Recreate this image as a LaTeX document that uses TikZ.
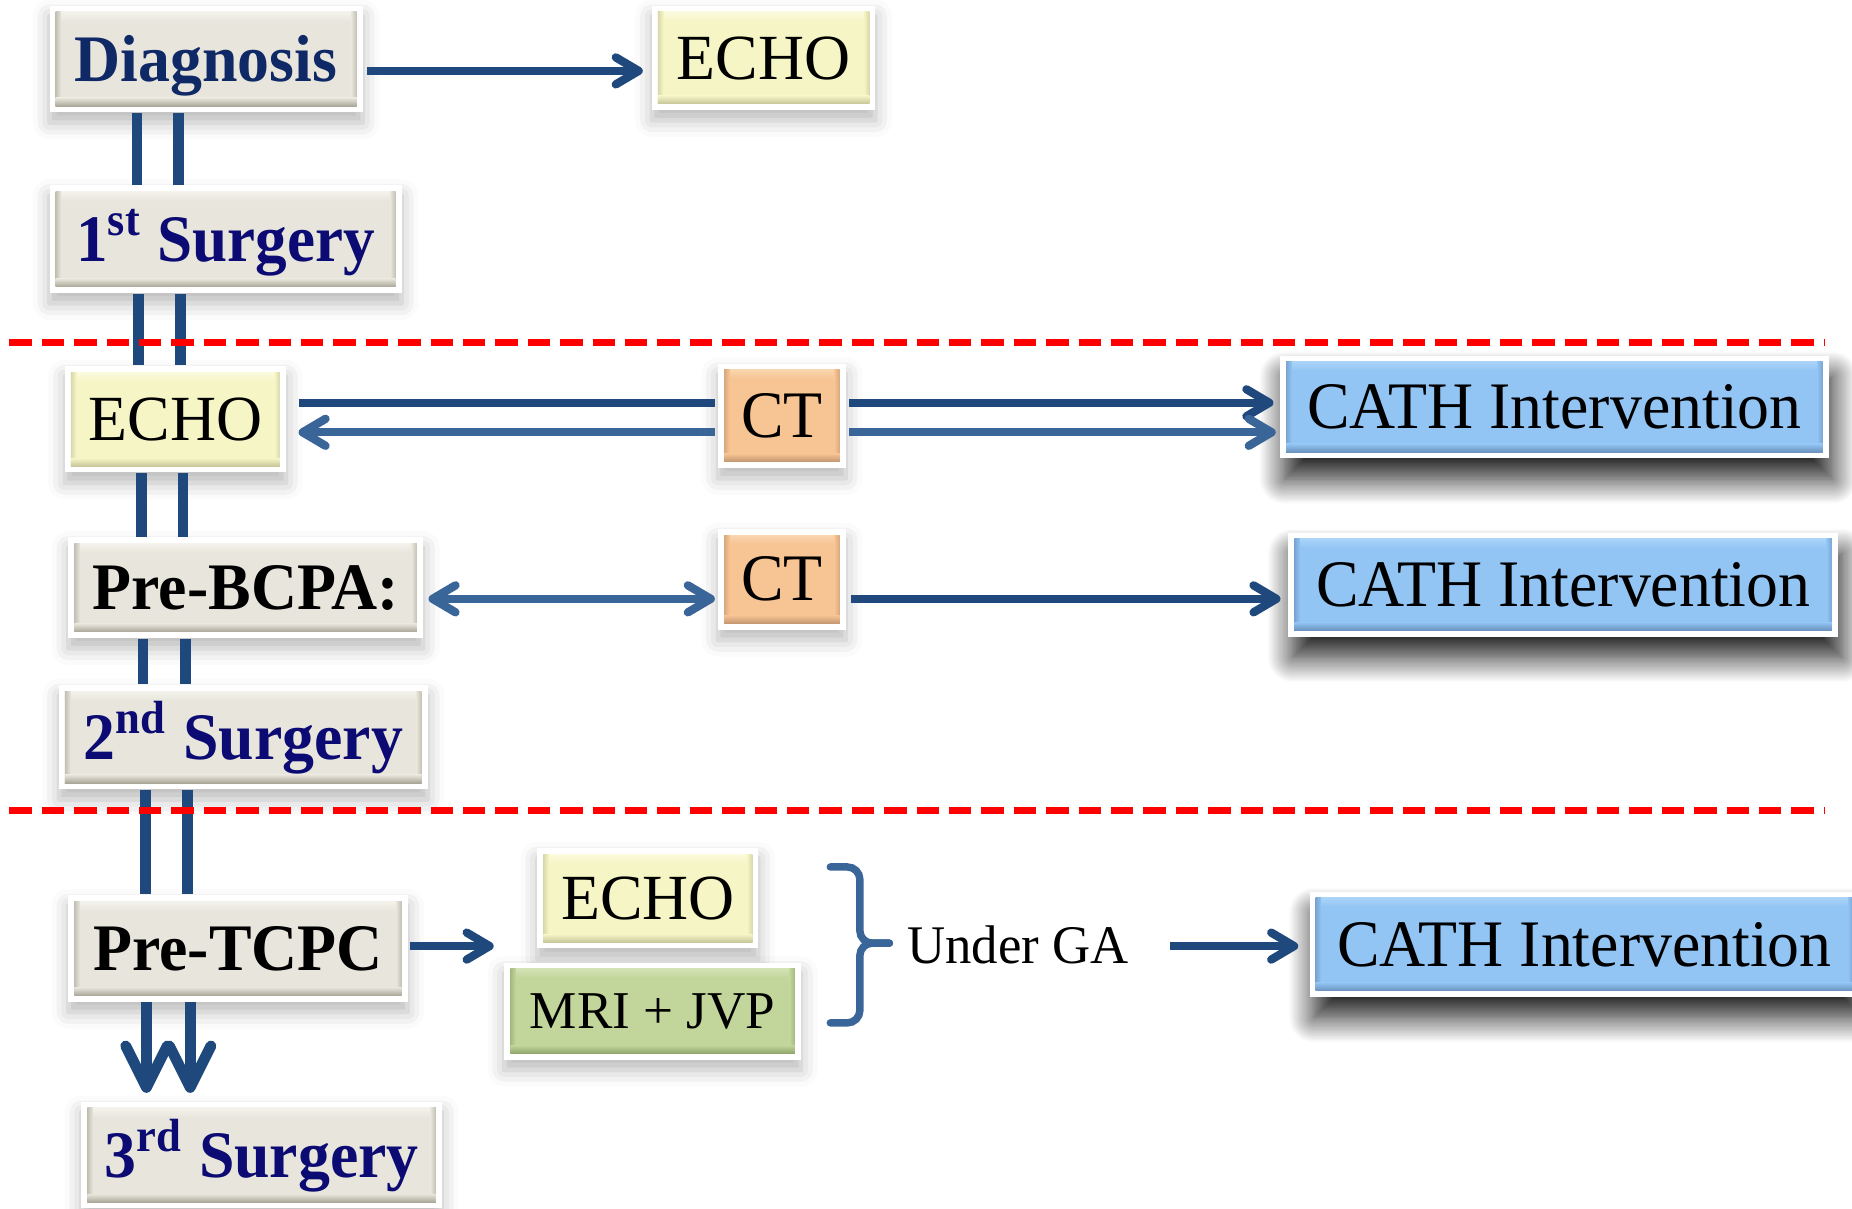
\documentclass[tikz,border=0pt]{standalone}
\usepackage{fontspec}
\setmainfont{Liberation Serif}
\usepackage{graphicx}
\usetikzlibrary{arrows.meta,calc,shadows.blur}

\definecolor{dblue}{HTML}{1F497D}
\definecolor{lblue}{HTML}{3A6598}
\definecolor{navyA}{HTML}{0F2866}
\definecolor{navyB}{HTML}{0B0B73}
\definecolor{gBase}{HTML}{E8E6DC}\definecolor{gLight}{HTML}{F3F2EC}\definecolor{gDark}{HTML}{A9A698}
\definecolor{yBase}{HTML}{F5F5C6}\definecolor{yLight}{HTML}{FBFBDE}\definecolor{yDark}{HTML}{C6C59A}
\definecolor{oBase}{HTML}{F7C493}\definecolor{oLight}{HTML}{FAD5AE}\definecolor{oDark}{HTML}{C39670}
\definecolor{bBase}{HTML}{92C4F4}\definecolor{bLight}{HTML}{AAD4F8}\definecolor{bDark}{HTML}{6A91BB}
\definecolor{vBase}{HTML}{C2D69B}\definecolor{vLight}{HTML}{D3E2B4}\definecolor{vDark}{HTML}{8FA56B}

\newcommand\sq[2]{\scalebox{#1}[1]{#2}}

\tikzset{
  bevel/.style n args={3}{path picture={
     \coordinate (ppsw) at ([shift={(1.45pt,1.45pt)}]path picture bounding box.south west);
     \coordinate (ppne) at ([shift={(-1.45pt,-1.45pt)}]path picture bounding box.north east);
     \fill[#1] (ppsw) rectangle (ppne);
     \shade[top color=#2, bottom color=#1] ($(ppsw|-ppne)+(0,-2.2pt)$) rectangle (ppne);
     \shade[left color=#3!60!#1, right color=#1] (ppsw) rectangle ($(ppsw|-ppne)+(1.3pt,0)$);
     \shade[left color=#1, right color=#3!60!#1] ($(ppne|-ppsw)+(-1.3pt,0)$) rectangle (ppne);
     \shade[top color=#1, bottom color=#3] (ppsw) rectangle ($(ppne|-ppsw)+(0,2pt)$);
  }},
  boxbase/.style={rectangle, inner sep=0pt, fill=white, text height=10.3pt, text depth=0pt,
     font=\fontsize{15.5}{18}\selectfont},
  lshadow/.style={blur shadow={shadow xshift=0pt, shadow yshift=-2.5pt, shadow blur radius=4pt, shadow opacity=28}},
  dshadow/.style={blur shadow={shadow xshift=1pt, shadow yshift=-5pt, shadow blur radius=6pt, shadow opacity=90, shadow blur steps=20}},
  gbox/.style={boxbase, lshadow, bevel={gBase}{gLight}{gDark}, font=\fontsize{16}{18}\selectfont\bfseries, text height=10.6pt},
  ybox/.style={boxbase, lshadow, bevel={yBase}{yLight}{yDark}},
  obox/.style={boxbase, lshadow, bevel={oBase}{oLight}{oDark}, font=\fontsize{16}{18}\selectfont},
  vbox/.style={boxbase, lshadow, bevel={vBase}{vLight}{vDark}, font=\fontsize{12.8}{15}\selectfont, text height=8.5pt},
  bbox/.style={boxbase, dshadow, bevel={bBase}{bLight}{bDark}, font=\fontsize{16}{18}\selectfont, text height=10.6pt},
  ln/.style={line width=2pt, draw=dblue},
  arr/.style={ln, -{Straight Barb[round, length=5.5pt, width=6.5pt]}},
  larr/.style={arr, draw=lblue},
  barr/.style={ln, draw=lblue, {Straight Barb[round, length=5.5pt, width=6.5pt]}-{Straight Barb[round, length=5.5pt, width=6.5pt]}},
  dl/.style={draw=dblue, line width=2.6pt},
  warr/.style={dl, -{Straight Barb[round, length=10pt, width=10pt]}},
  redd/.style={draw=red, line width=1.6pt, dash pattern=on 5.4pt off 2.4pt},
  brc/.style={draw=lblue, line width=1.8pt, rounded corners=3pt, line cap=round},
}

\begin{document}
\begin{tikzpicture}[x=0.01cm, y=-0.01cm]
\useasboundingbox (0,0) rectangle (1568,1023);

% nodes
\node[gbox, text=navyA, minimum width=2.65cm, minimum height=0.90cm] (diag) at (174.5,50) {\sq{0.96}{Diagnosis}};
\node[ybox, minimum width=1.89cm, minimum height=0.88cm] (echo1) at (646.5,49) {\sq{0.99}{ECHO}};
\node[gbox, text=navyB, minimum width=2.98cm, minimum height=0.91cm] (s1) at (191,202.5) {\sq{0.95}{1\textsuperscript{st} Surgery}};

\node[ybox, minimum width=1.87cm, minimum height=0.90cm] (echo2) at (148.5,355) {\sq{0.99}{ECHO}};
\node[obox, minimum width=1.08cm, minimum height=0.88cm] (ct1) at (662,352) {\sq{0.96}{CT}};
\node[bbox, minimum width=4.64cm, minimum height=0.87cm] (cath1) at (1316,344.5) {\sq{0.96}{CATH Intervention}};

\node[gbox, minimum width=3.00cm, minimum height=0.85cm] (prebcpa) at (208,497.5) {\sq{0.96}{Pre-BCPA:}};
\node[obox, minimum width=1.08cm, minimum height=0.85cm] (ct2) at (662,490.5) {\sq{0.96}{CT}};
\node[bbox, minimum width=4.65cm, minimum height=0.88cm] (cath2) at (1323.5,495) {\sq{0.96}{CATH Intervention}};

\node[gbox, text=navyB, minimum width=3.12cm, minimum height=0.88cm] (s2) at (206,624) {\sq{0.96}{2\textsuperscript{nd} Surgery}};

\node[gbox, minimum width=2.87cm, minimum height=0.90cm] (pretcpc) at (201.5,803) {\sq{0.96}{Pre-TCPC}};
\node[ybox, minimum width=1.87cm, minimum height=0.85cm] (echo3) at (548.5,760.5) {\sq{0.99}{ECHO}};
\node[vbox, minimum width=2.51cm, minimum height=0.82cm] (mri) at (552.5,856) {MRI + JVP};
\node[inner sep=0pt, font=\fontsize{13.1}{15}\selectfont] (ga) at (862,800) {\sq{0.97}{Under GA}};
\node[bbox, minimum width=4.65cm, minimum height=0.89cm] (cath3) at (1341.5,799.5) {\sq{0.96}{CATH Intervention}};

\node[gbox, text=navyB, minimum width=3.05cm, minimum height=0.90cm] (s3) at (221.5,978) {\sq{0.96}{3\textsuperscript{rd} Surgery}};

\coordinate (tcpcend) at (418,801);

% vertical double lines
\draw[dl] (116,0 |- diag.south) -- (116,0 |- s1.north);
\draw[dl] (151,0 |- diag.south) -- (151,0 |- s1.north);
\draw[dl] (117,0 |- s1.south) -- (117,0 |- echo2.north);
\draw[dl] (153,0 |- s1.south) -- (153,0 |- echo2.north);
\draw[dl] (120,0 |- echo2.south) -- (120,0 |- prebcpa.north);
\draw[dl] (155,0 |- echo2.south) -- (155,0 |- prebcpa.north);
\draw[dl] (121,0 |- prebcpa.south) -- (121,0 |- s2.north);
\draw[dl] (157,0 |- prebcpa.south) -- (157,0 |- s2.north);
\draw[dl] (123,0 |- s2.south) -- (123,0 |- pretcpc.north);
\draw[dl] (159,0 |- s2.south) -- (159,0 |- pretcpc.north);
\draw[warr, shorten >=0.07cm] (124,0 |- pretcpc.south) -- (124,0 |- s3.north);
\draw[warr, shorten >=0.07cm] (161,0 |- pretcpc.south) -- (161,0 |- s3.north);

% horizontal connectors
\draw[arr, shorten <=0.03cm, shorten >=0.07cm] (diag.east |- 0,60) -- (echo1.west |- 0,60);
\draw[ln, shorten <=0.10cm, shorten >=0.02cm] (echo2.east |- 0,341) -- (ct1.west |- 0,341);
\draw[arr, shorten <=0.02cm, shorten >=0.05cm] (ct1.east |- 0,341) -- (cath1.west |- 0,341);
\draw[larr, shorten <=0.02cm, shorten >=0.10cm] (ct1.west |- 0,366) -- (echo2.east |- 0,366);
\draw[larr, shorten <=0.02cm, shorten >=0.03cm] (ct1.east |- 0,366) -- (cath1.west |- 0,366);
\draw[barr, shorten <=0.04cm, shorten >=0.02cm] (prebcpa.east |- 0,507) -- (ct2.west |- 0,507);
\draw[arr, shorten <=0.04cm, shorten >=0.06cm] (ct2.east |- 0,507) -- (cath2.west |- 0,507);
\draw[arr, shorten <=0.01cm] (pretcpc.east |- tcpcend) -- (tcpcend);
\draw[arr, shorten <=0.34cm, shorten >=0.09cm] (ga.east |- 0,801) -- (cath3.west |- 0,801);

% brace
\draw[brc] (703,734) -- (728,734) -- (728,798.5) -- (753,798.5);
\draw[brc] (703,866) -- (728,866) -- (728,798.5) -- (753,798.5);

% red dashed separators
\draw[redd] (8,290) -- (1545,290);
\draw[redd] (8,686) -- (1545,686);
\end{tikzpicture}
\end{document}
